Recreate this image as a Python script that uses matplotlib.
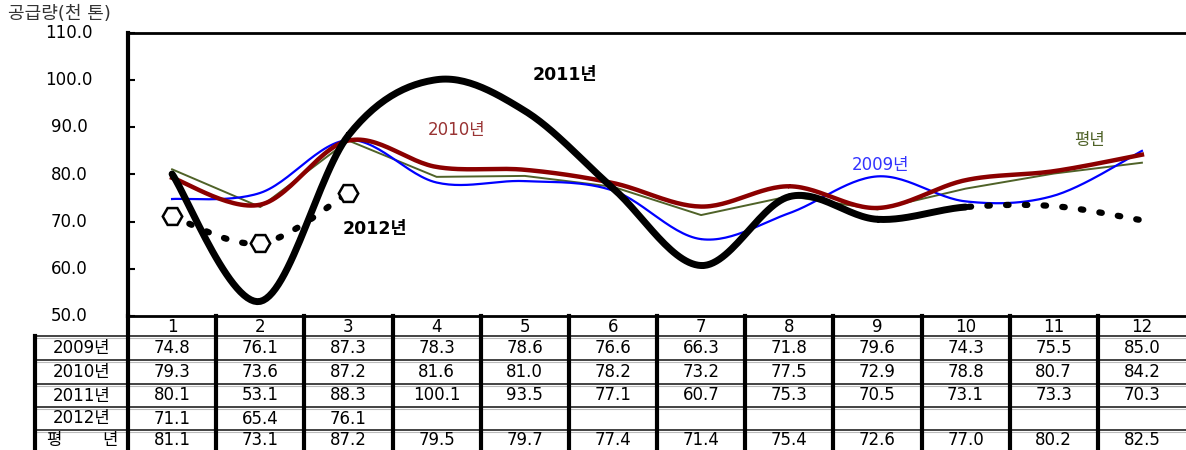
import numpy as np
import matplotlib
matplotlib.use("Agg")
import matplotlib.pyplot as plt

plt.rcParams['font.family'] = ['DejaVu Sans', 'Noto Sans CJK KR']

months = [1, 2, 3, 4, 5, 6, 7, 8, 9, 10, 11, 12]
y2009 = [74.8, 76.1, 87.3, 78.3, 78.6, 76.6, 66.3, 71.8, 79.6, 74.3, 75.5, 85.0]
y2010 = [79.3, 73.6, 87.2, 81.6, 81.0, 78.2, 73.2, 77.5, 72.9, 78.8, 80.7, 84.2]
y2011 = [80.1, 53.1, 88.3, 100.1, 93.5, 77.1, 60.7, 75.3, 70.5, 73.1, 73.3, 70.3]
y2012 = [71.1, 65.4, 76.1]
y_avg = [81.1, 73.1, 87.2, 79.5, 79.7, 77.4, 71.4, 75.4, 72.6, 77.0, 80.2, 82.5]
row_names = ['2009년', '2010년', '2011년', '2012년']
yticks = [50, 60, 70, 80, 90, 100, 110]


def smooth(x, y, n=30):
    # Catmull-Rom curve through the points (like a spreadsheet "smoothed line")
    x = np.asarray(x, float)
    y = np.asarray(y, float)
    px = np.concatenate([[x[0]], x, [x[-1]]])
    py = np.concatenate([[y[0]], y, [y[-1]]])
    xs, ys = [], []
    t = np.linspace(0, 1, n)
    for i in range(1, len(px) - 2):
        for p, out in ((px, xs), (py, ys)):
            p0, p1, p2, p3 = p[i - 1], p[i], p[i + 1], p[i + 2]
            out.extend(0.5 * (2 * p1 + (-p0 + p2) * t
                              + (2 * p0 - 5 * p1 + 4 * p2 - p3) * t ** 2
                              + (-p0 + 3 * p1 - 3 * p2 + p3) * t ** 3))
    return np.array(xs), np.array(ys)


W, H = 1186, 450
fig = plt.figure(figsize=(W / 100, H / 100), dpi=100)

# background axes in pixel coords for the table
bg = fig.add_axes([0, 0, 1, 1])
bg.set_xlim(0, W)
bg.set_ylim(H, 0)
bg.axis('off')

left, right, top, bottom = 128, 1186, 33, 316
ax = fig.add_axes([left / W, 1 - bottom / H, (right - left) / W, (bottom - top) / H])
ax.set_xlim(0.5, 12.5)
ax.set_ylim(50, 110)
ax.set_yticks(yticks)
ax.set_yticklabels([])
ax.tick_params(axis='y', direction='in', length=5, width=1.5)
ax.set_xticks([])
ax.spines['right'].set_visible(False)
ax.spines['left'].set_linewidth(3)
ax.spines['top'].set_linewidth(2)
ax.spines['bottom'].set_linewidth(2)
ax.patch.set_alpha(0)

fs = 12
# y tick labels
for v in yticks:
    py = bottom - (v - 50) / 60 * (bottom - top)
    bg.text(69, py, f'{v:.1f}', ha='center', va='center', fontsize=fs)
bg.text(8, 14, '공급량(천 톤)', ha='left', va='center', fontsize=13, color='#333333')

# lines
ax.plot(months, y_avg, color='#4F6228', lw=1.4, zorder=2)
sx, sy = smooth(months, y2009)
ax.plot(sx, sy, color='#0000FF', lw=1.6, zorder=3)
sx, sy = smooth(months, y2010)
ax.plot(sx, sy, color='#8B0000', lw=3.2, zorder=4)
sx, sy = smooth(months, y2011)
solid = sx <= 10
ax.plot(sx[solid], sy[solid], color='black', lw=5, zorder=5, solid_capstyle='round')
ax.plot(sx[~solid], sy[~solid], color='black', lw=4.5, ls=(0, (0.4, 2.6)),
        dash_capstyle='round', zorder=5)
sx, sy = smooth(months[:3], y2012)
ax.plot(sx, sy, color='black', lw=4.5, ls=(0, (0.4, 2.6)), dash_capstyle='round', zorder=5)
ax.plot(months[:3], y2012, ls='none', marker='H', ms=14, mfc='white', mec='black',
        mew=1.8, zorder=6)

ax.text(5.45, 101.1, '2011년', fontsize=12.5, fontweight='bold', ha='center', va='center')
ax.text(4.23, 89.4, '2010년', fontsize=fs, color='#993333', ha='center', va='center')
ax.text(9.03, 82.0, '2009년', fontsize=fs, color='#3333FF', ha='center', va='center')
ax.text(11.41, 87.3, '평년', fontsize=fs, color='#4F6228', ha='center', va='center')
ax.text(3.30, 68.4, '2012년', fontsize=12.5, fontweight='bold', ha='center', va='center')

# table
colw = (right - left) / 12
row_y = [316, 336, 360, 384, 407, 430, 450]
for yy in row_y[1:-1]:
    bg.plot([35, W], [yy, yy], color='#222222', lw=1.2)
    bg.plot([35, W], [yy + 1.5, yy + 1.5], color='#bbbbbb', lw=0.8)
bg.plot([35, 35], [336, 450], color='black', lw=3)
bg.plot([left, left], [316, 450], color='black', lw=3)
for k in range(1, 12):
    xx = left + k * colw
    bg.plot([xx, xx], [316, 450], color='black', lw=3)

for k, m in enumerate(months):
    bg.text(left + (k + 0.5) * colw, 326.5, str(m), ha='center', va='center', fontsize=fs)

table_rows = [y2009, y2010, y2011, y2012, y_avg]
for r, vals in enumerate(table_rows):
    cy = (row_y[r + 1] + row_y[r + 2]) / 2
    if r < 4:
        bg.text(82, cy, row_names[r], ha='center', va='center', fontsize=fs)
    else:
        bg.text(54, cy, '평', ha='center', va='center', fontsize=fs)
        bg.text(110, cy, '년', ha='center', va='center', fontsize=fs)
    for k, v in enumerate(vals):
        bg.text(left + (k + 0.5) * colw, cy, f'{v:.1f}', ha='center', va='center', fontsize=fs)

fig.savefig('out.png', dpi=100)
